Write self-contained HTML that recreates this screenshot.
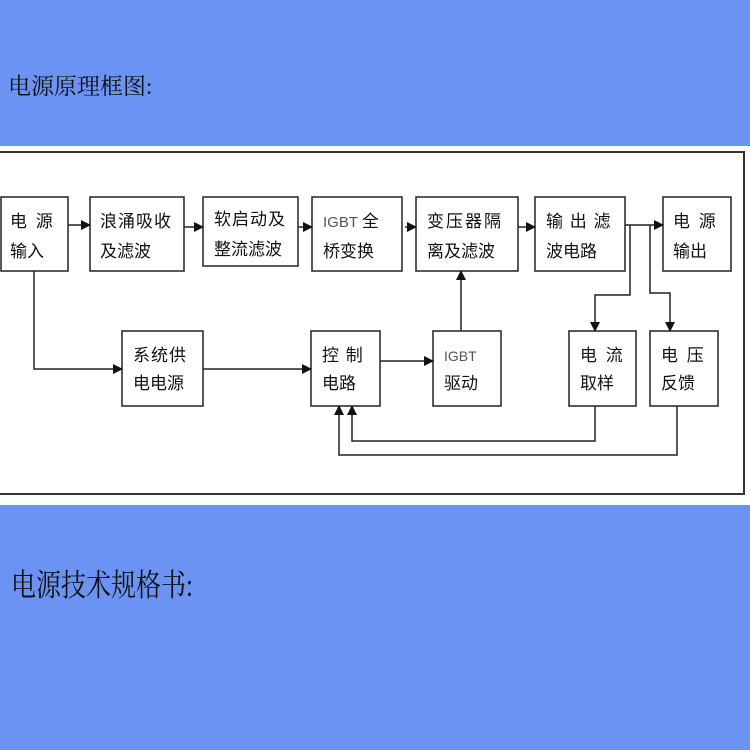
<!DOCTYPE html>
<html><head><meta charset="utf-8"><style>
body{margin:0;width:750px;height:750px;background:#6b93f3;position:relative;overflow:hidden}
.t{position:absolute;font-family:"Liberation Serif","Noto Serif CJK SC",serif;color:#111}
</style></head><body>
<div style="position:absolute;left:0;top:146px;width:750px;height:359px;background:#fff"></div>
<div class="t" style="left:8px;top:72px;font-size:23px;line-height:30px;">电源原理框图:</div>
<div class="t" style="left:11px;top:568px;font-size:25px;line-height:38px;transform:scaleY(1.25);transform-origin:0 50%">电源技术规格书:</div>
<svg width="750" height="750" style="position:absolute;left:0;top:0" font-family="Liberation Sans,Noto Sans CJK SC,sans-serif" font-size="17" fill="#111">
<defs><marker id="a" markerWidth="10" markerHeight="10" refX="9" refY="5" orient="auto" markerUnits="userSpaceOnUse"><path d="M0,0 L10,5 L0,10 z" fill="#111"/></marker></defs>
<g fill="none" stroke="#333" stroke-width="2">
<path d="M-2,152 H744 V494 H-2"/>
</g>
<g fill="#fff" stroke="#222" stroke-width="1.5">
<rect x="1" y="197" width="67" height="74"/>
<rect x="90" y="197" width="94" height="74"/>
<rect x="203" y="197" width="95" height="69"/>
<rect x="312" y="197" width="90" height="74"/>
<rect x="416" y="197" width="102" height="74"/>
<rect x="535" y="197" width="90" height="74"/>
<rect x="663" y="197" width="68" height="74"/>
<rect x="122" y="331" width="81" height="75"/>
<rect x="311" y="331" width="69" height="75"/>
<rect x="433" y="331" width="68" height="75"/>
<rect x="569" y="331" width="67" height="75"/>
<rect x="650" y="331" width="68" height="75"/>
</g>
<g fill="none" stroke="#222" stroke-width="1.5" marker-end="url(#a)">
<path d="M68,225 H90"/>
<path d="M184,227 H203"/>
<path d="M298,227 H312"/>
<path d="M405,227 H416"/>
<path d="M518,227 H535"/>
<path d="M625,225 H663"/>
<path d="M34,271 V369 H122"/>
<path d="M203,369 H311"/>
<path d="M380,361 H433"/>
<path d="M461,331 V271"/>
<path d="M630,225 V295 H595 V331"/>
<path d="M650,225 V293 H670 V331"/>
<path d="M595,406 V441 H352 V406"/>
<path d="M677,406 V455 H339 V406"/>
</g>
<text x="10" y="227" letter-spacing="2">电 源</text><text x="10" y="257">输入</text>
<text x="100" y="227" letter-spacing="1">浪涌吸收</text><text x="100" y="257">及滤波</text>
<text x="214" y="225" letter-spacing="1">软启动及</text><text x="214" y="255">整流滤波</text>
<text x="323" y="227" font-size="15" fill="#555">IGBT  <tspan fill="#111" font-size="17">全</tspan></text><text x="323" y="257">桥变换</text>
<text x="427" y="227" letter-spacing="2">变压器隔</text><text x="427" y="257">离及滤波</text>
<text x="546" y="227" letter-spacing="1">输 出 滤</text><text x="546" y="257">波电路</text>
<text x="673" y="227" letter-spacing="2">电 源</text><text x="673" y="257">输出</text>
<text x="133" y="361" letter-spacing="1">系统供</text><text x="133" y="389">电电源</text>
<text x="322" y="361" letter-spacing="1">控 制</text><text x="322" y="389">电路</text>
<text x="444" y="361" font-size="14" fill="#555">IGBT</text><text x="444" y="389">驱动</text>
<text x="580" y="361" letter-spacing="2">电 流</text><text x="580" y="389">取样</text>
<text x="661" y="361" letter-spacing="2">电 压</text><text x="661" y="389">反馈</text>
</svg>
</body></html>
